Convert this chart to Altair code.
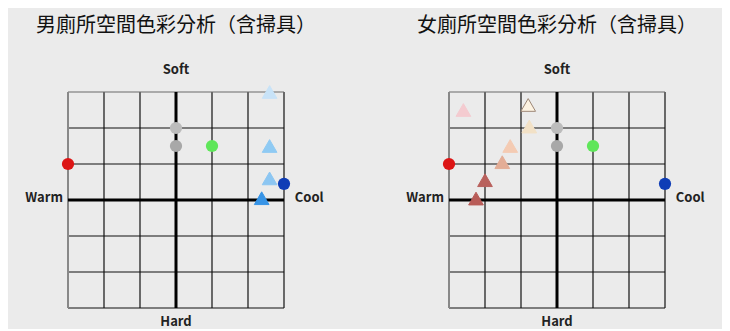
import altair as alt
import pandas as pd

# ---- data ----
grid_ticks = [-3, -2, -1, 0, 1, 2, 3]

titles = ["男廁所空間色彩分析（含掃具）", "女廁所空間色彩分析（含掃具）"]

# circles (same in both panels)
circ_keys = ["red", "gray_light", "gray_dark", "green", "blue"]
circ_x = [-3, 0, 0, 1, 3]
circ_y = [1, 2, 1.5, 1.5, 0.45]
circ_colors = ["#dc1515", "#bcbcbc", "#a8a8a8", "#5fe65a", "#0f3db6"]

# male triangles
m_tri_keys = ["m1", "m2", "m3", "m4"]
m_tri_x = [2.6, 2.6, 2.6, 2.38]
m_tri_y = [3.0, 1.5, 0.6, 0.05]
m_tri_colors = ["#c8e3f8", "#8fcaf3", "#8cc6f2", "#3794e6"]

# female triangles
f_tri_keys = ["f1", "f2", "f3", "f4", "f5", "f6", "f7"]
f_tri_x = [-2.6, -0.8, -0.77, -1.3, -1.52, -2.0, -2.25]
f_tri_y = [2.5, 2.64, 2.04, 1.5, 1.05, 0.55, 0.04]
f_tri_colors = ["#f4cbd0", "#fdf3e2", "#f2e1c6", "#f4cbb3", "#e3ad96", "#b9615d", "#b85c58"]
f_tri_strokes = ["#f4cbd0", "#9c8676", "#f2e1c6", "#f4cbb3", "#e3ad96", "#b9615d", "#b85c58"]

labels = ["Soft", "Hard"]
label_x = [0, 0]
label_y = [3.6, -3.38]
side_labels = ["Warm", "Cool"]

FONT = "Noto Sans CJK TC"

xs = alt.Scale(domain=[-3, 3], nice=False, zero=False)
ys = alt.Scale(domain=[-3, 3], nice=False, zero=False)


def X(f="x"):
    return alt.X(f"{f}:Q", scale=xs, axis=None)


def Y(f="y"):
    return alt.Y(f"{f}:Q", scale=ys, axis=None)


def panel(title, tri_keys, tri_x, tri_y, tri_colors, tri_strokes):
    inner = [t for t in grid_ticks if t not in (-3, 0, 3)]
    vdf = pd.DataFrame({"x": inner + [3], "lo": -3, "hi": 3})
    hdf = pd.DataFrame({"y": inner + [-3], "lo": -3, "hi": 3})
    vlines = alt.Chart(vdf).mark_rule(color="#111111", strokeWidth=1.2).encode(
        x=X(), y=Y("lo"), y2="hi")
    hlines = alt.Chart(hdf).mark_rule(color="#111111", strokeWidth=1.2).encode(
        y=Y(), x=X("lo"), x2="hi")
    top = alt.Chart(pd.DataFrame({"y": [3], "lo": [-3], "hi": [3]})).mark_rule(
        color="#6a6a6a", strokeWidth=1.2).encode(y=Y(), x=X("lo"), x2="hi")
    left = alt.Chart(pd.DataFrame({"x": [-3], "lo": [-3], "hi": [3]})).mark_rule(
        color="#888888", strokeWidth=2).encode(x=X(), y=Y("lo"), y2="hi")
    cv = alt.Chart(pd.DataFrame({"x": [0], "lo": [-3], "hi": [3]})).mark_rule(
        color="#000000", strokeWidth=3).encode(x=X(), y=Y("lo"), y2="hi")
    ch = alt.Chart(pd.DataFrame({"y": [0], "lo": [-3], "hi": [3]})).mark_rule(
        color="#000000", strokeWidth=3).encode(y=Y(), x=X("lo"), x2="hi")

    cdf = pd.DataFrame({"k": circ_keys, "x": circ_x, "y": circ_y})
    circles = alt.Chart(cdf).mark_point(filled=True, size=150, opacity=1, shape="circle").encode(
        x=X(), y=Y(),
        color=alt.Color("k:N", scale=alt.Scale(domain=circ_keys, range=circ_colors), legend=None))

    tdf = pd.DataFrame({"k": tri_keys, "x": tri_x, "y": tri_y})
    tris = alt.Chart(tdf).mark_point(shape="triangle-up", size=216, opacity=1,
                                     filled=True, strokeWidth=1).encode(
        x=X(), y=Y(),
        fill=alt.Fill("k:N", scale=alt.Scale(domain=tri_keys, range=tri_colors), legend=None),
        stroke=alt.Stroke("k:N", scale=alt.Scale(domain=tri_keys, range=tri_strokes), legend=None))

    ldf = pd.DataFrame({"t": labels, "x": label_x, "y": label_y})
    ltext = alt.Chart(ldf).mark_text(font=FONT, fontSize=13, fontWeight="bold",
                                     color="#222222", align="center", baseline="middle").encode(
        x=X(), y=Y(), text="t:N")
    warm = alt.Chart(pd.DataFrame({"t": [side_labels[0]], "x": [-3.14], "y": [0]})).mark_text(
        font=FONT, fontSize=13, fontWeight="bold", color="#222222", align="right",
        baseline="middle", dy=-2).encode(x=X(), y=Y(), text="t:N")
    cool = alt.Chart(pd.DataFrame({"t": [side_labels[1]], "x": [3.3], "y": [0]})).mark_text(
        font=FONT, fontSize=13, fontWeight="bold", color="#222222", align="left",
        baseline="middle", dy=-2).encode(x=X(), y=Y(), text="t:N")

    return alt.layer(vlines, hlines, top, left, cv, ch, circles, tris, ltext, warm, cool).properties(
        width=216, height=216,
        title=alt.TitleParams(title, font=FONT, fontSize=20, fontWeight="normal",
                              color="#111111", anchor="middle", offset=28))


left_panel = panel(titles[0], m_tri_keys, m_tri_x, m_tri_y, m_tri_colors, m_tri_colors)
right_panel = panel(titles[1], f_tri_keys, f_tri_x, f_tri_y, f_tri_colors, f_tri_strokes)

chart = alt.hconcat(left_panel, right_panel, spacing=165, bounds="flush").resolve_scale(
    color="independent", fill="independent", stroke="independent"
).properties(
    background="#ebebeb",
    padding={"left": 17, "top": 8, "right": 17, "bottom": 0},
).configure_view(stroke=None)

chart.save("out.html", embed_options={"renderer": "svg", "actions": False})
